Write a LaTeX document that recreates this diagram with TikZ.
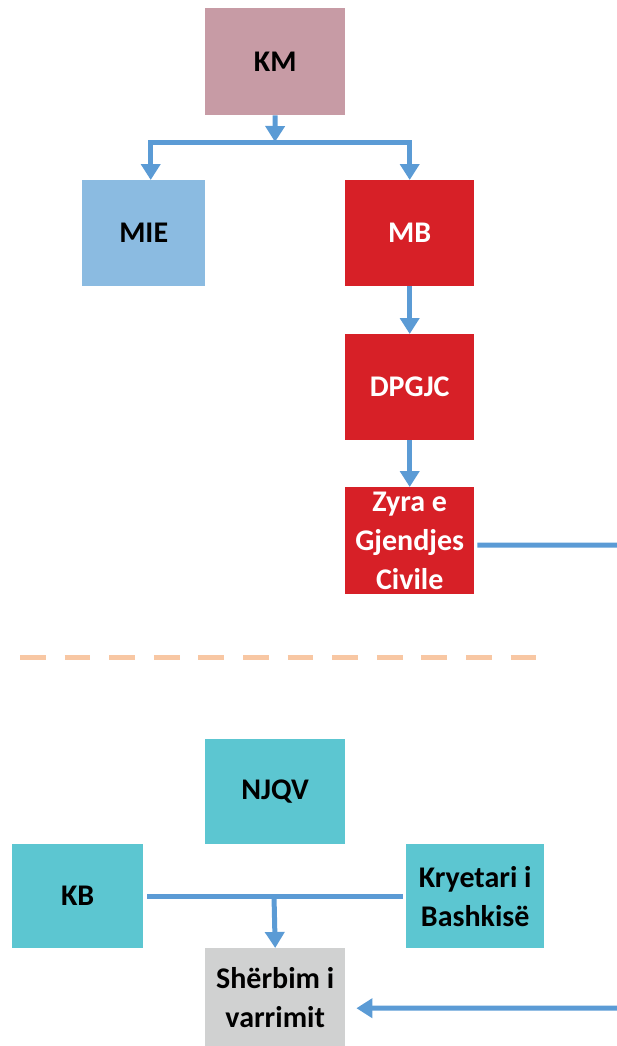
\documentclass[tikz,border=0pt]{standalone}
\usepackage{fontspec}
\setmainfont{Carlito}
\usetikzlibrary{arrows.meta}
\definecolor{kmpink}{HTML}{C79BA5}
\definecolor{mieblue}{HTML}{8BBBE1}
\definecolor{mbred}{HTML}{D72027}
\definecolor{teal}{HTML}{5CC6D1}
\definecolor{lightgray}{HTML}{D0D1D1}
\definecolor{arrowblue}{HTML}{5B9BD5}
\definecolor{peach}{HTML}{F8C7A3}
\tikzset{
	box/.style={anchor=north west, inner sep=0pt, align=center,
		font=\fontsize{30}{39}\selectfont\bfseries},
	link/.style={draw=arrowblue, line width=5pt},
	arrow/.style={link, -{Triangle[width=19pt,length=16pt]}},
	cut/.style={draw=peach, line width=5pt, dash pattern=on 25.7pt off 18.9pt}
}
\begin{document}
\begin{tikzpicture}[x=1pt,y=-1pt]
		\useasboundingbox (0,0) rectangle (616,1046);
		% ministries
		\node[box, fill=kmpink, minimum width=140pt, minimum height=107pt] (KM) at (205,8) {KM};
		\node[box, fill=mieblue, minimum width=123pt, minimum height=106pt] (MIE) at (82,180) {MIE};
		\node[box, fill=mbred, text=white, minimum width=129pt, minimum height=106pt] (MB) at (345,180) {MB};
		\node[box, fill=mbred, text=white, minimum width=129pt, minimum height=106pt] (DPGJC) at (345,334) {DPGJC};
		\node[box, fill=mbred, text=white, minimum width=129pt, minimum height=107pt] (Zyra) at (345,487) {Zyra e\\Gjendjes\\Civile};
		\coordinate (split) at (275,142);
		\draw[arrow] (KM.south) -- (split);
		\draw[arrow] (split) -| ([xshift=7pt]MIE.north);
		\draw[arrow] (split) -| (MB.north);
		\draw[arrow] (MB.south) -- (DPGJC.north);
		\draw[arrow] (DPGJC.south) -- (Zyra.north);
		
		\draw[cut] (20,657) -- (536,657);
		
		% local level
		\node[box, fill=teal, minimum width=140pt, minimum height=105pt] (NJQV) at (205,739) {NJQV};
		\node[box, fill=teal, minimum width=131pt, minimum height=104pt] (KB) at (12,844) {KB};
		\node[box, fill=teal, minimum width=138pt, minimum height=104pt] (Kryetari) at (406,844) {Kryetari i\\Bashkisë};
		\node[box, fill=lightgray, minimum width=140pt, minimum height=98pt] (Sherbim) at (205,948) {Shërbim i\\varrimit};
		\coordinate (join) at (274,896);
		\draw[link] ([xshift=4pt]KB.east) -- ([xshift=-3pt]Kryetari.west);
		\draw[arrow] (join) -- (Sherbim.north);
		\draw[arrow] ([xshift=3pt,yshift=-4.5pt]Zyra.east) -- (660,545) |- ([xshift=11pt,yshift=-11pt]Sherbim.east);
		
	\end{tikzpicture}
\end{document}
